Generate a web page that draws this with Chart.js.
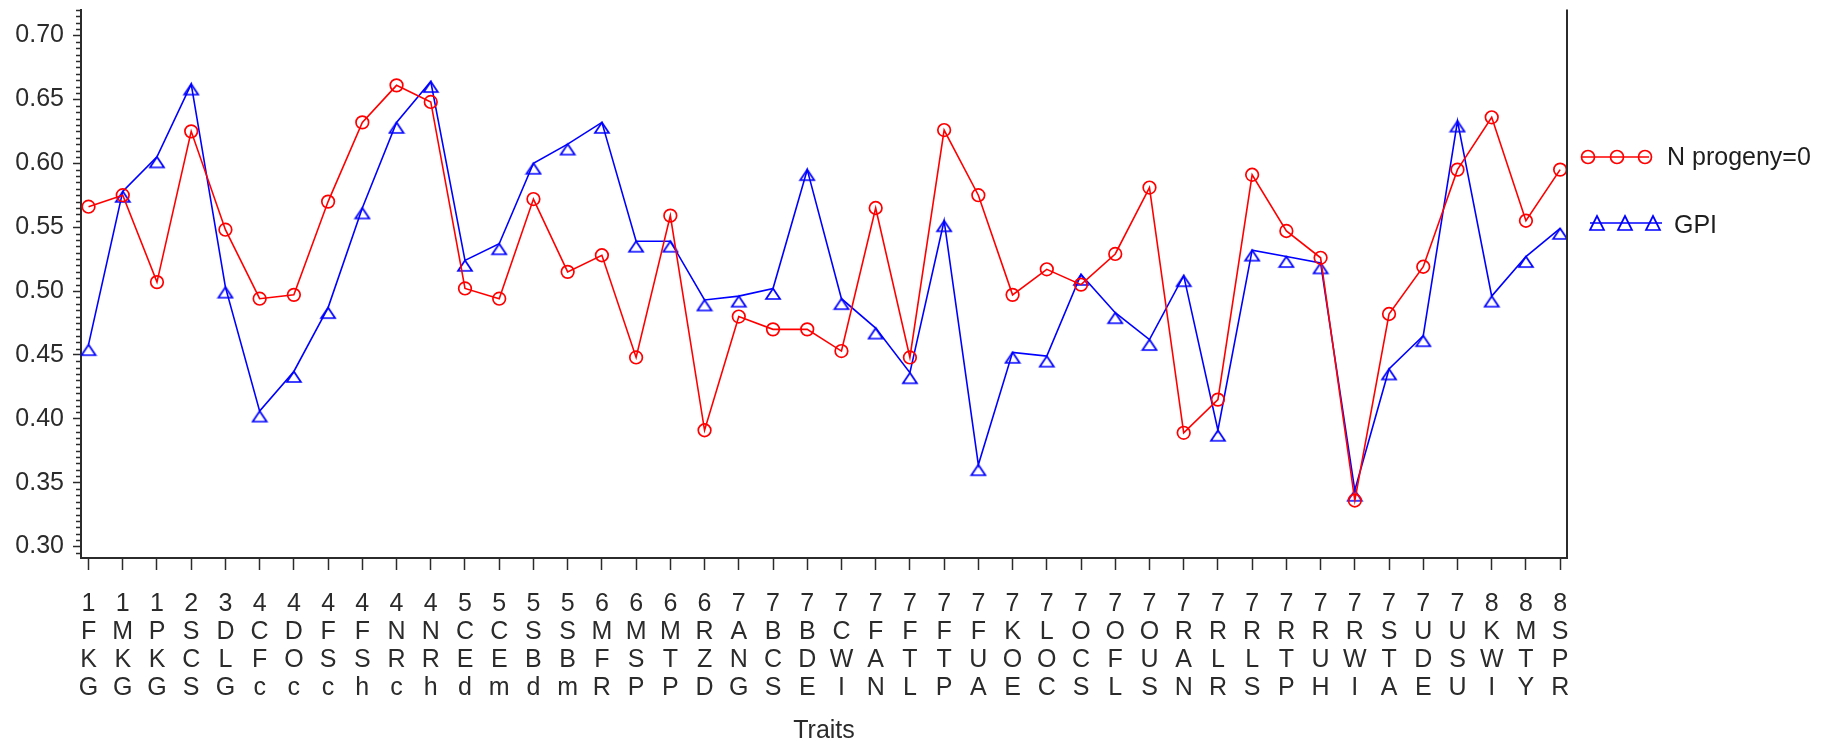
<!DOCTYPE html>
<html>
<head>
<meta charset="utf-8">
<script src="https://cdn.jsdelivr.net/npm/chart.js@4/dist/chart.umd.min.js"></script>
<style>
  html, body { margin: 0; padding: 0; background: #fff; }
  #chart { display: block; }
</style>
</head>
<body>
<canvas id="chart" width="1831" height="741"></canvas>
<script>
// Trait codes along the x axis
const categories = ['1FKG','1MKG','1PKG','2SCS','3DLG','4CFc','4DOc','4FSc','4FSh','4NRc','4NRh',
  '5CEd','5CEm','5SBd','5SBm','6MFR','6MSP','6MTP','6RZD','7ANG','7BCS','7BDE','7CWI','7FAN',
  '7FTL','7FTP','7FUA','7KOE','7LOC','7OCS','7OFL','7OUS','7RAN','7RLR','7RLS','7RTP','7RUH',
  '7RWI','7STA','7UDE','7USU','8KWI','8MTY','8SPR'];

// Series values
const nProgeny0 = [0.566,0.575,0.507,0.625,0.548,0.494,0.497,0.570,0.632,0.661,0.648,
  0.502,0.494,0.572,0.515,0.528,0.448,0.559,0.391,0.480,0.470,0.470,0.453,0.565,
  0.448,0.626,0.575,0.497,0.517,0.505,0.529,0.581,0.389,0.415,0.591,0.547,0.526,
  0.336,0.482,0.519,0.595,0.636,0.555,0.595];
const gpi = [0.458,0.578,0.605,0.662,0.503,0.406,0.437,0.487,0.565,0.632,0.664,
  0.524,0.537,0.600,0.615,0.632,0.539,0.539,0.493,0.496,0.502,0.595,0.494,0.471,
  0.436,0.555,0.364,0.452,0.449,0.513,0.483,0.462,0.512,0.391,0.532,0.527,0.522,
  0.344,0.439,0.465,0.633,0.496,0.527,0.549];

// Y axis labelled ticks
const yTickValues = [0.30,0.35,0.40,0.45,0.50,0.55,0.60,0.65,0.70];

const FONT = 'Liberation Sans, Arial, sans-serif';
const FONT_SIZE = 25;
const INK = '#2b2b2b';
const RED = '#ff0000';
const BLUE = '#0000ff';

// Hollow triangle whose apex sits on the data point
function makeTriangle(color, w, h) {
  const c = document.createElement('canvas');
  c.width = Math.ceil(w + 4);
  c.height = Math.ceil(2 * h + 4);
  const g = c.getContext('2d');
  const cx = c.width / 2, cy = c.height / 2;
  g.strokeStyle = color;
  g.lineWidth = 1.7;
  g.beginPath();
  g.moveTo(cx, cy);
  g.lineTo(cx + w / 2, cy + h);
  g.lineTo(cx - w / 2, cy + h);
  g.closePath();
  g.stroke();
  return c;
}
const triMarker = makeTriangle(BLUE, 14, 10.5);

function traitLines(code) { return code.split(''); }

const redPoints = categories.map((c, i) => ({ x: i, y: nProgeny0[i] }));
const bluePoints = categories.map((c, i) => ({ x: i, y: gpi[i] }));

// Minor ticks on the y axis, right frame line and the legend
const decorations = {
  id: 'decorations',
  afterDraw(chart) {
    const { ctx, chartArea } = chart;
    const y = chart.scales.y;
    ctx.save();
    ctx.strokeStyle = INK;
    ctx.lineWidth = 1.5;
    // minor ticks every 0.005
    for (let k = 58; k <= 144; k++) {
      if (k % 10 === 0) continue;
      const v = k * 0.005;
      if (v < y.min || v > y.max) continue;
      const py = Math.round(y.getPixelForValue(v)) + 0.5;
      ctx.beginPath();
      ctx.moveTo(chartArea.left - 5, py);
      ctx.lineTo(chartArea.left, py);
      ctx.stroke();
    }
    // right frame
    ctx.lineWidth = 2;
    ctx.beginPath();
    ctx.moveTo(chartArea.right, chartArea.top);
    ctx.lineTo(chartArea.right, chartArea.bottom);
    ctx.stroke();

    // legend
    const ds = chart.data.datasets;
    const rx = chartArea.right;
    ctx.font = FONT_SIZE + 'px ' + FONT;
    ctx.textBaseline = 'middle';
    ctx.textAlign = 'left';
    // first entry: circles
    let ly = 157;
    ctx.strokeStyle = ds[0].borderColor;
    ctx.lineWidth = 1.7;
    ctx.beginPath();
    ctx.moveTo(rx + 15, ly); ctx.lineTo(rx + 82, ly); ctx.stroke();
    [rx + 21, rx + 50, rx + 78].forEach(cx => {
      ctx.beginPath(); ctx.arc(cx, ly, 6.5, 0, Math.PI * 2); ctx.stroke();
    });
    ctx.fillStyle = '#1e1e1e';
    ctx.fillText(ds[0].label, rx + 100, ly + 1);
    // second entry: triangles
    ly = 223;
    ctx.strokeStyle = ds[1].borderColor;
    ctx.beginPath();
    ctx.moveTo(rx + 23, ly); ctx.lineTo(rx + 95, ly); ctx.stroke();
    [rx + 30, rx + 58, rx + 86].forEach(cx => {
      ctx.beginPath();
      ctx.moveTo(cx, ly - 7);
      ctx.lineTo(cx + 7, ly + 7);
      ctx.lineTo(cx - 7, ly + 7);
      ctx.closePath();
      ctx.stroke();
    });
    ctx.fillStyle = '#1e1e1e';
    ctx.fillText(ds[1].label, rx + 107, ly + 3);
    ctx.restore();
  }
};

new Chart(document.getElementById('chart'), {
  type: 'line',
  data: {
    datasets: [
      {
        label: 'N progeny=0',
        data: redPoints,
        borderColor: RED,
        backgroundColor: RED,
        borderWidth: 1.6,
        pointStyle: 'circle',
        pointRadius: 6.3,
        pointBorderWidth: 1.7,
        pointBackgroundColor: 'rgba(0,0,0,0)',
        pointBorderColor: RED,
        tension: 0
      },
      {
        label: 'GPI',
        data: bluePoints,
        borderColor: BLUE,
        backgroundColor: BLUE,
        borderWidth: 1.6,
        pointStyle: triMarker,
        pointRadius: 8,
        tension: 0
      }
    ]
  },
  options: {
    responsive: false,
    animation: false,
    devicePixelRatio: 1,
    layout: { padding: { top: 8, left: 0, right: 264, bottom: 0 } },
    plugins: { legend: { display: false }, tooltip: { enabled: false } },
    scales: {
      x: {
        type: 'linear',
        bounds: 'data',
        min: -0.22,
        max: 43.2,
        afterBuildTicks(scale) { scale.ticks = categories.map((c, i) => ({ value: i })); },
        afterFit(scale) {
          scale.height = 183;
          scale.paddingLeft = 0;
          scale.paddingRight = 0;
        },
        grid: { drawOnChartArea: false, drawTicks: true, tickLength: 12, tickColor: INK, tickWidth: 1.5 },
        border: { display: true, color: INK, width: 2 },
        ticks: {
          autoSkip: false,
          maxRotation: 0,
          minRotation: 0,
          padding: 20,
          color: INK,
          font: { family: FONT, size: FONT_SIZE, lineHeight: 1.12 },
          callback(value) {
            const i = Math.round(value);
            return categories[i] ? traitLines(categories[i]) : '';
          }
        },
        title: {
          display: true,
          text: 'Traits',
          color: INK,
          font: { family: FONT, size: FONT_SIZE, lineHeight: 1.0 },
          padding: { top: 0, bottom: -3 }
        }
      },
      y: {
        type: 'linear',
        bounds: 'data',
        min: 0.291,
        max: 0.7203,
        afterBuildTicks(scale) { scale.ticks = yTickValues.map(v => ({ value: v })); },
        afterFit(scale) {
          scale.width = 81;
          scale.paddingTop = 0;
          scale.paddingBottom = 0;
        },
        grid: { drawOnChartArea: false, drawTicks: true, tickLength: 8, tickColor: INK, tickWidth: 1.5 },
        border: { display: true, color: INK, width: 2 },
        ticks: {
          padding: 9,
          color: INK,
          font: { family: FONT, size: FONT_SIZE },
          callback(value) { return Number(value).toFixed(2); }
        }
      }
    }
  },
  plugins: [decorations]
});
</script>
</body>
</html>
